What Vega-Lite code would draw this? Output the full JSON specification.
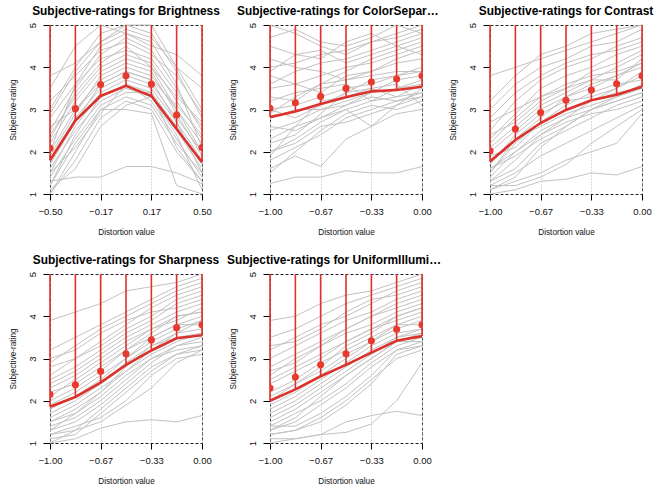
{
"$schema": "https://vega.github.io/schema/vega-lite/v6.json",
"background": "white",
"padding": {"left": 7, "top": 4, "right": 0, "bottom": 0},
"bounds": "flush",
"columns": 3,
"spacing": {"row": 80, "column": 68},
"config": {
  "font": "Liberation Sans",
  "view": {"stroke": "#222", "strokeDash": [3, 2], "strokeWidth": 1},
  "title": {"font": "Liberation Sans", "fontSize": 11.9, "fontWeight": "bold", "color": "#000", "frame": "group", "anchor": "middle", "offset": 4},
  "axis": {"labelFont": "Liberation Sans", "labelFontSize": 9.5, "labelColor": "#111", "titleFont": "Liberation Sans", "titleFontSize": 8.2, "titleFontWeight": "normal", "titleColor": "#111", "tickColor": "#000", "domain": false, "grid": false},
  "axisX": {"tickSize": 6, "labelPadding": 6, "titlePadding": 13, "grid": true, "gridDash": [1, 2], "gridColor": "#b4b4b4", "labelFlush": false, "labelOverlap": false},
  "axisY": {"tickSize": 7, "labelPadding": 6, "titlePadding": 10, "labelAngle": -90, "labelAlign": "center", "labelBaseline": "bottom"}
},
"datasets": {
  "gB": [
{"s":1,"x":-0.5,"y":1.3},{"s":1,"x":-0.333,"y":1.4},{"s":1,"x":-0.167,"y":1.4},{"s":1,"x":0,"y":1.65},{"s":1,"x":0.167,"y":1.65},{"s":1,"x":0.333,"y":1.5},{"s":1,"x":0.5,"y":1.25},
{"s":2,"x":-0.5,"y":1.0},{"s":2,"x":-0.333,"y":2.0},{"s":2,"x":-0.167,"y":3.0},{"s":2,"x":0,"y":3.0},{"s":2,"x":0.167,"y":2.9},{"s":2,"x":0.333,"y":1.2},{"s":2,"x":0.5,"y":1.0},
{"s":3,"x":-0.5,"y":2.0},{"s":3,"x":-0.333,"y":3.0},{"s":3,"x":-0.167,"y":3.7},{"s":3,"x":0,"y":4.0},{"s":3,"x":0.167,"y":3.8},{"s":3,"x":0.333,"y":3.0},{"s":3,"x":0.5,"y":2.0},
{"s":4,"x":-0.5,"y":2.5},{"s":4,"x":-0.333,"y":3.5},{"s":4,"x":-0.167,"y":4.3},{"s":4,"x":0,"y":4.7},{"s":4,"x":0.167,"y":4.4},{"s":4,"x":0.333,"y":3.5},{"s":4,"x":0.5,"y":2.5},
{"s":5,"x":-0.5,"y":1.5},{"s":5,"x":-0.333,"y":2.6},{"s":5,"x":-0.167,"y":3.4},{"s":5,"x":0,"y":3.7},{"s":5,"x":0.167,"y":3.5},{"s":5,"x":0.333,"y":2.7},{"s":5,"x":0.5,"y":1.8},
{"s":6,"x":-0.5,"y":3.0},{"s":6,"x":-0.333,"y":4.0},{"s":6,"x":-0.167,"y":4.8},{"s":6,"x":0,"y":5.0},{"s":6,"x":0.167,"y":5.0},{"s":6,"x":0.333,"y":4.0},{"s":6,"x":0.5,"y":3.0},
{"s":7,"x":-0.5,"y":1.2},{"s":7,"x":-0.333,"y":2.2},{"s":7,"x":-0.167,"y":3.0},{"s":7,"x":0,"y":3.3},{"s":7,"x":0.167,"y":3.1},{"s":7,"x":0.333,"y":2.2},{"s":7,"x":0.5,"y":1.5},
{"s":8,"x":-0.5,"y":2.2},{"s":8,"x":-0.333,"y":3.2},{"s":8,"x":-0.167,"y":3.9},{"s":8,"x":0,"y":4.2},{"s":8,"x":0.167,"y":4.0},{"s":8,"x":0.333,"y":3.0},{"s":8,"x":0.5,"y":2.2},
{"s":9,"x":-0.5,"y":1.8},{"s":9,"x":-0.333,"y":2.8},{"s":9,"x":-0.167,"y":3.5},{"s":9,"x":0,"y":3.8},{"s":9,"x":0.167,"y":3.6},{"s":9,"x":0.333,"y":2.8},{"s":9,"x":0.5,"y":2.0},
{"s":10,"x":-0.5,"y":3.5},{"s":10,"x":-0.333,"y":4.5},{"s":10,"x":-0.167,"y":5.0},{"s":10,"x":0,"y":4.8},{"s":10,"x":0.167,"y":4.5},{"s":10,"x":0.333,"y":4.3},{"s":10,"x":0.5,"y":3.8},
{"s":11,"x":-0.5,"y":1.0},{"s":11,"x":-0.333,"y":1.8},{"s":11,"x":-0.167,"y":2.8},{"s":11,"x":0,"y":3.2},{"s":11,"x":0.167,"y":3.0},{"s":11,"x":0.333,"y":2.0},{"s":11,"x":0.5,"y":1.3},
{"s":12,"x":-0.5,"y":2.8},{"s":12,"x":-0.333,"y":3.6},{"s":12,"x":-0.167,"y":4.2},{"s":12,"x":0,"y":4.4},{"s":12,"x":0.167,"y":4.2},{"s":12,"x":0.333,"y":3.4},{"s":12,"x":0.5,"y":2.6},
{"s":13,"x":-0.5,"y":1.6},{"s":13,"x":-0.333,"y":2.5},{"s":13,"x":-0.167,"y":3.2},{"s":13,"x":0,"y":3.5},{"s":13,"x":0.167,"y":3.3},{"s":13,"x":0.333,"y":2.5},{"s":13,"x":0.5,"y":1.6},
{"s":14,"x":-0.5,"y":2.4},{"s":14,"x":-0.333,"y":3.3},{"s":14,"x":-0.167,"y":4.0},{"s":14,"x":0,"y":4.3},{"s":14,"x":0.167,"y":4.1},{"s":14,"x":0.333,"y":3.2},{"s":14,"x":0.5,"y":2.3},
{"s":15,"x":-0.5,"y":1.2},{"s":15,"x":-0.333,"y":2.4},{"s":15,"x":-0.167,"y":3.3},{"s":15,"x":0,"y":3.6},{"s":15,"x":0.167,"y":3.2},{"s":15,"x":0.333,"y":2.3},{"s":15,"x":0.5,"y":1.4},
{"s":16,"x":-0.5,"y":2.0},{"s":16,"x":-0.333,"y":3.6},{"s":16,"x":-0.167,"y":4.5},{"s":16,"x":0,"y":4.8},{"s":16,"x":0.167,"y":4.6},{"s":16,"x":0.333,"y":3.6},{"s":16,"x":0.5,"y":2.1},
{"s":17,"x":-0.5,"y":1.4},{"s":17,"x":-0.333,"y":2.3},{"s":17,"x":-0.167,"y":3.1},{"s":17,"x":0,"y":3.4},{"s":17,"x":0.167,"y":3.4},{"s":17,"x":0.333,"y":2.6},{"s":17,"x":0.5,"y":1.7},
{"s":18,"x":-0.5,"y":3.2},{"s":18,"x":-0.333,"y":3.8},{"s":18,"x":-0.167,"y":4.4},{"s":18,"x":0,"y":4.6},{"s":18,"x":0.167,"y":4.3},{"s":18,"x":0.333,"y":3.8},{"s":18,"x":0.5,"y":2.9},
{"s":19,"x":-0.5,"y":1.1},{"s":19,"x":-0.333,"y":1.6},{"s":19,"x":-0.167,"y":2.6},{"s":19,"x":0,"y":3.1},{"s":19,"x":0.167,"y":3.3},{"s":19,"x":0.333,"y":2.4},{"s":19,"x":0.5,"y":1.1},
{"s":20,"x":-0.5,"y":2.6},{"s":20,"x":-0.333,"y":3.0},{"s":20,"x":-0.167,"y":3.6},{"s":20,"x":0,"y":3.9},{"s":20,"x":0.167,"y":3.7},{"s":20,"x":0.333,"y":3.1},{"s":20,"x":0.5,"y":2.4},
{"s":21,"x":-0.5,"y":1.9},{"s":21,"x":-0.333,"y":2.9},{"s":21,"x":-0.167,"y":3.8},{"s":21,"x":0,"y":4.1},{"s":21,"x":0.167,"y":3.9},{"s":21,"x":0.333,"y":2.9},{"s":21,"x":0.5,"y":1.9},
{"s":22,"x":-0.5,"y":3.8},{"s":22,"x":-0.333,"y":4.1},{"s":22,"x":-0.167,"y":4.6},{"s":22,"x":0,"y":4.9},{"s":22,"x":0.167,"y":4.7},{"s":22,"x":0.333,"y":4.0},{"s":22,"x":0.5,"y":3.5},
{"s":23,"x":-0.5,"y":1.5},{"s":23,"x":-0.333,"y":2.1},{"s":23,"x":-0.167,"y":2.9},{"s":23,"x":0,"y":3.6},{"s":23,"x":0.167,"y":3.4},{"s":23,"x":0.333,"y":2.1},{"s":23,"x":0.5,"y":1.3},
{"s":24,"x":-0.5,"y":2.3},{"s":24,"x":-0.333,"y":3.4},{"s":24,"x":-0.167,"y":4.1},{"s":24,"x":0,"y":4.5},{"s":24,"x":0.167,"y":4.0},{"s":24,"x":0.333,"y":3.3},{"s":24,"x":0.5,"y":2.7},
{"s":25,"x":-0.5,"y":1.7},{"s":25,"x":-0.333,"y":2.7},{"s":25,"x":-0.167,"y":3.6},{"s":25,"x":0,"y":3.9},{"s":25,"x":0.167,"y":3.7},{"s":25,"x":0.333,"y":2.7},{"s":25,"x":0.5,"y":1.5},
{"s":26,"x":-0.5,"y":2.9},{"s":26,"x":-0.333,"y":3.9},{"s":26,"x":-0.167,"y":4.6},{"s":26,"x":0,"y":5.0},{"s":26,"x":0.167,"y":4.8},{"s":26,"x":0.333,"y":3.9},{"s":26,"x":0.5,"y":2.8}
  ],
  "gC": [
{"s":1,"x":-1,"y":1.25},{"s":1,"x":-0.833,"y":1.4},{"s":1,"x":-0.667,"y":1.4},{"s":1,"x":-0.5,"y":1.55},{"s":1,"x":-0.333,"y":1.5},{"s":1,"x":-0.167,"y":1.5},{"s":1,"x":0,"y":1.65},
{"s":2,"x":-1,"y":1.6},{"s":2,"x":-0.833,"y":1.9},{"s":2,"x":-0.667,"y":1.65},{"s":2,"x":-0.5,"y":2.3},{"s":2,"x":-0.333,"y":2.6},{"s":2,"x":-0.167,"y":2.9},{"s":2,"x":0,"y":3.0},
{"s":3,"x":-1,"y":3.0},{"s":3,"x":-0.833,"y":3.1},{"s":3,"x":-0.667,"y":3.3},{"s":3,"x":-0.5,"y":3.5},{"s":3,"x":-0.333,"y":3.6},{"s":3,"x":-0.167,"y":3.8},{"s":3,"x":0,"y":3.9},
{"s":4,"x":-1,"y":4.0},{"s":4,"x":-0.833,"y":4.1},{"s":4,"x":-0.667,"y":4.3},{"s":4,"x":-0.5,"y":4.4},{"s":4,"x":-0.333,"y":4.6},{"s":4,"x":-0.167,"y":4.8},{"s":4,"x":0,"y":5.0},
{"s":5,"x":-1,"y":2.5},{"s":5,"x":-0.833,"y":2.7},{"s":5,"x":-0.667,"y":3.0},{"s":5,"x":-0.5,"y":3.2},{"s":5,"x":-0.333,"y":3.4},{"s":5,"x":-0.167,"y":3.5},{"s":5,"x":0,"y":3.6},
{"s":6,"x":-1,"y":5.0},{"s":6,"x":-0.833,"y":4.8},{"s":6,"x":-0.667,"y":4.5},{"s":6,"x":-0.5,"y":4.3},{"s":6,"x":-0.333,"y":4.6},{"s":6,"x":-0.167,"y":4.7},{"s":6,"x":0,"y":4.9},
{"s":7,"x":-1,"y":2.0},{"s":7,"x":-0.833,"y":2.3},{"s":7,"x":-0.667,"y":2.7},{"s":7,"x":-0.5,"y":3.0},{"s":7,"x":-0.333,"y":3.2},{"s":7,"x":-0.167,"y":3.3},{"s":7,"x":0,"y":3.4},
{"s":8,"x":-1,"y":3.5},{"s":8,"x":-0.833,"y":3.6},{"s":8,"x":-0.667,"y":3.8},{"s":8,"x":-0.5,"y":4.0},{"s":8,"x":-0.333,"y":4.1},{"s":8,"x":-0.167,"y":4.3},{"s":8,"x":0,"y":4.5},
{"s":9,"x":-1,"y":1.8},{"s":9,"x":-0.833,"y":2.1},{"s":9,"x":-0.667,"y":2.4},{"s":9,"x":-0.5,"y":2.8},{"s":9,"x":-0.333,"y":3.0},{"s":9,"x":-0.167,"y":3.2},{"s":9,"x":0,"y":3.3},
{"s":10,"x":-1,"y":3.8},{"s":10,"x":-0.833,"y":3.6},{"s":10,"x":-0.667,"y":3.4},{"s":10,"x":-0.5,"y":3.8},{"s":10,"x":-0.333,"y":3.9},{"s":10,"x":-0.167,"y":4.1},{"s":10,"x":0,"y":4.2},
{"s":11,"x":-1,"y":2.8},{"s":11,"x":-0.833,"y":3.0},{"s":11,"x":-0.667,"y":3.0},{"s":11,"x":-0.5,"y":3.1},{"s":11,"x":-0.333,"y":3.3},{"s":11,"x":-0.167,"y":3.2},{"s":11,"x":0,"y":3.4},
{"s":12,"x":-1,"y":4.5},{"s":12,"x":-0.833,"y":4.3},{"s":12,"x":-0.667,"y":4.2},{"s":12,"x":-0.5,"y":4.6},{"s":12,"x":-0.333,"y":4.8},{"s":12,"x":-0.167,"y":4.5},{"s":12,"x":0,"y":4.7},
{"s":13,"x":-1,"y":2.2},{"s":13,"x":-0.833,"y":2.4},{"s":13,"x":-0.667,"y":2.9},{"s":13,"x":-0.5,"y":3.4},{"s":13,"x":-0.333,"y":3.7},{"s":13,"x":-0.167,"y":3.8},{"s":13,"x":0,"y":4.0},
{"s":14,"x":-1,"y":3.2},{"s":14,"x":-0.833,"y":3.4},{"s":14,"x":-0.667,"y":3.5},{"s":14,"x":-0.5,"y":3.6},{"s":14,"x":-0.333,"y":3.2},{"s":14,"x":-0.167,"y":3.5},{"s":14,"x":0,"y":3.7},
{"s":15,"x":-1,"y":1.5},{"s":15,"x":-0.833,"y":2.0},{"s":15,"x":-0.667,"y":2.5},{"s":15,"x":-0.5,"y":2.9},{"s":15,"x":-0.333,"y":3.1},{"s":15,"x":-0.167,"y":3.0},{"s":15,"x":0,"y":3.2},
{"s":16,"x":-1,"y":2.9},{"s":16,"x":-0.833,"y":3.3},{"s":16,"x":-0.667,"y":3.6},{"s":16,"x":-0.5,"y":3.9},{"s":16,"x":-0.333,"y":4.2},{"s":16,"x":-0.167,"y":4.4},{"s":16,"x":0,"y":4.6},
{"s":17,"x":-1,"y":4.2},{"s":17,"x":-0.833,"y":4.0},{"s":17,"x":-0.667,"y":3.9},{"s":17,"x":-0.5,"y":3.7},{"s":17,"x":-0.333,"y":3.9},{"s":17,"x":-0.167,"y":4.2},{"s":17,"x":0,"y":4.4},
{"s":18,"x":-1,"y":2.6},{"s":18,"x":-0.833,"y":2.5},{"s":18,"x":-0.667,"y":2.8},{"s":18,"x":-0.5,"y":3.0},{"s":18,"x":-0.333,"y":2.6},{"s":18,"x":-0.167,"y":3.1},{"s":18,"x":0,"y":3.3},
{"s":19,"x":-1,"y":3.6},{"s":19,"x":-0.833,"y":3.9},{"s":19,"x":-0.667,"y":4.1},{"s":19,"x":-0.5,"y":4.2},{"s":19,"x":-0.333,"y":4.4},{"s":19,"x":-0.167,"y":4.6},{"s":19,"x":0,"y":4.8},
{"s":20,"x":-1,"y":2.3},{"s":20,"x":-0.833,"y":2.6},{"s":20,"x":-0.667,"y":3.2},{"s":20,"x":-0.5,"y":3.3},{"s":20,"x":-0.333,"y":3.5},{"s":20,"x":-0.167,"y":3.6},{"s":20,"x":0,"y":3.1},
{"s":21,"x":-1,"y":3.3},{"s":21,"x":-0.833,"y":3.2},{"s":21,"x":-0.667,"y":3.6},{"s":21,"x":-0.5,"y":3.7},{"s":21,"x":-0.333,"y":3.8},{"s":21,"x":-0.167,"y":3.9},{"s":21,"x":0,"y":3.9},
{"s":22,"x":-1,"y":2.0},{"s":22,"x":-0.833,"y":2.2},{"s":22,"x":-0.667,"y":2.6},{"s":22,"x":-0.5,"y":2.7},{"s":22,"x":-0.333,"y":2.9},{"s":22,"x":-0.167,"y":3.1},{"s":22,"x":0,"y":3.5},
{"s":23,"x":-1,"y":4.7},{"s":23,"x":-0.833,"y":4.9},{"s":23,"x":-0.667,"y":4.6},{"s":23,"x":-0.5,"y":4.5},{"s":23,"x":-0.333,"y":4.7},{"s":23,"x":-0.167,"y":5.0},{"s":23,"x":0,"y":4.8},
{"s":24,"x":-1,"y":3.0},{"s":24,"x":-0.833,"y":2.8},{"s":24,"x":-0.667,"y":3.1},{"s":24,"x":-0.5,"y":3.4},{"s":24,"x":-0.333,"y":3.5},{"s":24,"x":-0.167,"y":3.3},{"s":24,"x":0,"y":3.6},
{"s":25,"x":-1,"y":1.9},{"s":25,"x":-0.833,"y":2.6},{"s":25,"x":-0.667,"y":2.8},{"s":25,"x":-0.5,"y":3.1},{"s":25,"x":-0.333,"y":3.4},{"s":25,"x":-0.167,"y":3.7},{"s":25,"x":0,"y":3.8},
{"s":26,"x":-1,"y":3.9},{"s":26,"x":-0.833,"y":4.3},{"s":26,"x":-0.667,"y":4.4},{"s":26,"x":-0.5,"y":4.1},{"s":26,"x":-0.333,"y":4.3},{"s":26,"x":-0.167,"y":4.5},{"s":26,"x":0,"y":4.3}
  ],
  "gT": [
{"s":1,"x":-1,"y":1.0},{"s":1,"x":-0.833,"y":1.1},{"s":1,"x":-0.667,"y":1.3},{"s":1,"x":-0.5,"y":1.35},{"s":1,"x":-0.333,"y":1.5},{"s":1,"x":-0.167,"y":1.45},{"s":1,"x":0,"y":1.65},
{"s":2,"x":-1,"y":1.1},{"s":2,"x":-0.833,"y":1.3},{"s":2,"x":-0.667,"y":1.5},{"s":2,"x":-0.5,"y":1.8},{"s":2,"x":-0.333,"y":2.0},{"s":2,"x":-0.167,"y":2.2},{"s":2,"x":0,"y":2.9},
{"s":3,"x":-1,"y":3.8},{"s":3,"x":-0.833,"y":4.0},{"s":3,"x":-0.667,"y":4.2},{"s":3,"x":-0.5,"y":4.4},{"s":3,"x":-0.333,"y":4.6},{"s":3,"x":-0.167,"y":4.8},{"s":3,"x":0,"y":5.0},
{"s":4,"x":-1,"y":2.0},{"s":4,"x":-0.833,"y":2.5},{"s":4,"x":-0.667,"y":3.0},{"s":4,"x":-0.5,"y":3.3},{"s":4,"x":-0.333,"y":3.6},{"s":4,"x":-0.167,"y":3.8},{"s":4,"x":0,"y":4.0},
{"s":5,"x":-1,"y":1.5},{"s":5,"x":-0.833,"y":2.2},{"s":5,"x":-0.667,"y":2.7},{"s":5,"x":-0.5,"y":3.0},{"s":5,"x":-0.333,"y":3.2},{"s":5,"x":-0.167,"y":3.4},{"s":5,"x":0,"y":3.5},
{"s":6,"x":-1,"y":2.5},{"s":6,"x":-0.833,"y":3.2},{"s":6,"x":-0.667,"y":3.7},{"s":6,"x":-0.5,"y":4.0},{"s":6,"x":-0.333,"y":4.2},{"s":6,"x":-0.167,"y":4.5},{"s":6,"x":0,"y":4.7},
{"s":7,"x":-1,"y":1.3},{"s":7,"x":-0.833,"y":1.8},{"s":7,"x":-0.667,"y":2.4},{"s":7,"x":-0.5,"y":2.8},{"s":7,"x":-0.333,"y":3.0},{"s":7,"x":-0.167,"y":3.2},{"s":7,"x":0,"y":3.4},
{"s":8,"x":-1,"y":2.2},{"s":8,"x":-0.833,"y":2.8},{"s":8,"x":-0.667,"y":3.3},{"s":8,"x":-0.5,"y":3.6},{"s":8,"x":-0.333,"y":3.8},{"s":8,"x":-0.167,"y":3.9},{"s":8,"x":0,"y":4.1},
{"s":9,"x":-1,"y":1.2},{"s":9,"x":-0.833,"y":1.5},{"s":9,"x":-0.667,"y":1.9},{"s":9,"x":-0.5,"y":2.2},{"s":9,"x":-0.333,"y":2.5},{"s":9,"x":-0.167,"y":2.8},{"s":9,"x":0,"y":3.1},
{"s":10,"x":-1,"y":3.0},{"s":10,"x":-0.833,"y":3.6},{"s":10,"x":-0.667,"y":4.0},{"s":10,"x":-0.5,"y":4.2},{"s":10,"x":-0.333,"y":4.5},{"s":10,"x":-0.167,"y":4.6},{"s":10,"x":0,"y":4.9},
{"s":11,"x":-1,"y":1.8},{"s":11,"x":-0.833,"y":2.3},{"s":11,"x":-0.667,"y":2.6},{"s":11,"x":-0.5,"y":2.9},{"s":11,"x":-0.333,"y":3.1},{"s":11,"x":-0.167,"y":3.3},{"s":11,"x":0,"y":3.6},
{"s":12,"x":-1,"y":1.6},{"s":12,"x":-0.833,"y":2.0},{"s":12,"x":-0.667,"y":2.5},{"s":12,"x":-0.5,"y":2.8},{"s":12,"x":-0.333,"y":3.2},{"s":12,"x":-0.167,"y":3.5},{"s":12,"x":0,"y":3.8},
{"s":13,"x":-1,"y":2.7},{"s":13,"x":-0.833,"y":3.0},{"s":13,"x":-0.667,"y":3.3},{"s":13,"x":-0.5,"y":3.5},{"s":13,"x":-0.333,"y":3.7},{"s":13,"x":-0.167,"y":4.0},{"s":13,"x":0,"y":4.3},
{"s":14,"x":-1,"y":1.4},{"s":14,"x":-0.833,"y":2.0},{"s":14,"x":-0.667,"y":2.4},{"s":14,"x":-0.5,"y":2.7},{"s":14,"x":-0.333,"y":2.9},{"s":14,"x":-0.167,"y":3.0},{"s":14,"x":0,"y":3.2},
{"s":15,"x":-1,"y":1.1},{"s":15,"x":-0.833,"y":1.4},{"s":15,"x":-0.667,"y":2.1},{"s":15,"x":-0.5,"y":2.6},{"s":15,"x":-0.333,"y":3.0},{"s":15,"x":-0.167,"y":3.3},{"s":15,"x":0,"y":3.5},
{"s":16,"x":-1,"y":2.3},{"s":16,"x":-0.833,"y":2.9},{"s":16,"x":-0.667,"y":3.5},{"s":16,"x":-0.5,"y":3.8},{"s":16,"x":-0.333,"y":4.0},{"s":16,"x":-0.167,"y":4.3},{"s":16,"x":0,"y":4.5},
{"s":17,"x":-1,"y":1.9},{"s":17,"x":-0.833,"y":2.1},{"s":17,"x":-0.667,"y":2.7},{"s":17,"x":-0.5,"y":3.1},{"s":17,"x":-0.333,"y":3.4},{"s":17,"x":-0.167,"y":3.6},{"s":17,"x":0,"y":3.7},
{"s":18,"x":-1,"y":1.3},{"s":18,"x":-0.833,"y":1.6},{"s":18,"x":-0.667,"y":2.2},{"s":18,"x":-0.5,"y":2.5},{"s":18,"x":-0.333,"y":2.8},{"s":18,"x":-0.167,"y":3.1},{"s":18,"x":0,"y":3.3},
{"s":19,"x":-1,"y":2.8},{"s":19,"x":-0.833,"y":3.4},{"s":19,"x":-0.667,"y":3.8},{"s":19,"x":-0.5,"y":4.1},{"s":19,"x":-0.333,"y":4.3},{"s":19,"x":-0.167,"y":4.4},{"s":19,"x":0,"y":4.6},
{"s":20,"x":-1,"y":1.7},{"s":20,"x":-0.833,"y":2.4},{"s":20,"x":-0.667,"y":2.9},{"s":20,"x":-0.5,"y":3.2},{"s":20,"x":-0.333,"y":3.3},{"s":20,"x":-0.167,"y":3.5},{"s":20,"x":0,"y":3.9},
{"s":21,"x":-1,"y":1.2},{"s":21,"x":-0.833,"y":1.2},{"s":21,"x":-0.667,"y":1.4},{"s":21,"x":-0.5,"y":1.7},{"s":21,"x":-0.333,"y":2.2},{"s":21,"x":-0.167,"y":2.6},{"s":21,"x":0,"y":3.0},
{"s":22,"x":-1,"y":2.1},{"s":22,"x":-0.833,"y":2.6},{"s":22,"x":-0.667,"y":3.1},{"s":22,"x":-0.5,"y":3.4},{"s":22,"x":-0.333,"y":3.7},{"s":22,"x":-0.167,"y":3.7},{"s":22,"x":0,"y":4.2},
{"s":23,"x":-1,"y":1.5},{"s":23,"x":-0.833,"y":2.3},{"s":23,"x":-0.667,"y":2.8},{"s":23,"x":-0.5,"y":3.3},{"s":23,"x":-0.333,"y":3.5},{"s":23,"x":-0.167,"y":3.8},{"s":23,"x":0,"y":4.1},
{"s":24,"x":-1,"y":3.2},{"s":24,"x":-0.833,"y":3.8},{"s":24,"x":-0.667,"y":4.3},{"s":24,"x":-0.5,"y":4.5},{"s":24,"x":-0.333,"y":4.8},{"s":24,"x":-0.167,"y":4.9},{"s":24,"x":0,"y":5.0},
{"s":25,"x":-1,"y":1.6},{"s":25,"x":-0.833,"y":1.9},{"s":25,"x":-0.667,"y":2.3},{"s":25,"x":-0.5,"y":2.6},{"s":25,"x":-0.333,"y":3.0},{"s":25,"x":-0.167,"y":3.2},{"s":25,"x":0,"y":3.4},
{"s":26,"x":-1,"y":2.4},{"s":26,"x":-0.833,"y":2.7},{"s":26,"x":-0.667,"y":3.2},{"s":26,"x":-0.5,"y":3.5},{"s":26,"x":-0.333,"y":3.9},{"s":26,"x":-0.167,"y":4.1},{"s":26,"x":0,"y":4.4}
  ],
  "gS": [
{"s":1,"x":-1,"y":1.0},{"s":1,"x":-0.833,"y":1.1},{"s":1,"x":-0.667,"y":1.35},{"s":1,"x":-0.5,"y":1.5},{"s":1,"x":-0.333,"y":1.55},{"s":1,"x":-0.167,"y":1.5},{"s":1,"x":0,"y":1.65},
{"s":2,"x":-1,"y":3.9},{"s":2,"x":-0.833,"y":4.1},{"s":2,"x":-0.667,"y":4.3},{"s":2,"x":-0.5,"y":4.6},{"s":2,"x":-0.333,"y":4.7},{"s":2,"x":-0.167,"y":4.8},{"s":2,"x":0,"y":5.0},
{"s":3,"x":-1,"y":1.2},{"s":3,"x":-0.833,"y":1.3},{"s":3,"x":-0.667,"y":1.5},{"s":3,"x":-0.5,"y":1.9},{"s":3,"x":-0.333,"y":2.3},{"s":3,"x":-0.167,"y":2.9},{"s":3,"x":0,"y":3.2},
{"s":4,"x":-1,"y":2.0},{"s":4,"x":-0.833,"y":2.3},{"s":4,"x":-0.667,"y":2.7},{"s":4,"x":-0.5,"y":3.2},{"s":4,"x":-0.333,"y":3.6},{"s":4,"x":-0.167,"y":4.0},{"s":4,"x":0,"y":4.1},
{"s":5,"x":-1,"y":1.5},{"s":5,"x":-0.833,"y":1.8},{"s":5,"x":-0.667,"y":2.2},{"s":5,"x":-0.5,"y":2.7},{"s":5,"x":-0.333,"y":3.2},{"s":5,"x":-0.167,"y":3.6},{"s":5,"x":0,"y":3.7},
{"s":6,"x":-1,"y":2.8},{"s":6,"x":-0.833,"y":3.0},{"s":6,"x":-0.667,"y":3.3},{"s":6,"x":-0.5,"y":3.7},{"s":6,"x":-0.333,"y":4.0},{"s":6,"x":-0.167,"y":4.4},{"s":6,"x":0,"y":4.6},
{"s":7,"x":-1,"y":1.3},{"s":7,"x":-0.833,"y":1.5},{"s":7,"x":-0.667,"y":1.9},{"s":7,"x":-0.5,"y":2.4},{"s":7,"x":-0.333,"y":2.9},{"s":7,"x":-0.167,"y":3.3},{"s":7,"x":0,"y":3.4},
{"s":8,"x":-1,"y":2.4},{"s":8,"x":-0.833,"y":2.7},{"s":8,"x":-0.667,"y":3.1},{"s":8,"x":-0.5,"y":3.5},{"s":8,"x":-0.333,"y":3.8},{"s":8,"x":-0.167,"y":4.1},{"s":8,"x":0,"y":4.3},
{"s":9,"x":-1,"y":1.7},{"s":9,"x":-0.833,"y":2.0},{"s":9,"x":-0.667,"y":2.4},{"s":9,"x":-0.5,"y":2.9},{"s":9,"x":-0.333,"y":3.3},{"s":9,"x":-0.167,"y":3.5},{"s":9,"x":0,"y":3.6},
{"s":10,"x":-1,"y":3.2},{"s":10,"x":-0.833,"y":3.5},{"s":10,"x":-0.667,"y":3.8},{"s":10,"x":-0.5,"y":4.1},{"s":10,"x":-0.333,"y":4.4},{"s":10,"x":-0.167,"y":4.7},{"s":10,"x":0,"y":4.9},
{"s":11,"x":-1,"y":1.1},{"s":11,"x":-0.833,"y":1.2},{"s":11,"x":-0.667,"y":1.7},{"s":11,"x":-0.5,"y":2.2},{"s":11,"x":-0.333,"y":2.7},{"s":11,"x":-0.167,"y":3.1},{"s":11,"x":0,"y":3.3},
{"s":12,"x":-1,"y":2.2},{"s":12,"x":-0.833,"y":2.4},{"s":12,"x":-0.667,"y":2.8},{"s":12,"x":-0.5,"y":3.2},{"s":12,"x":-0.333,"y":3.5},{"s":12,"x":-0.167,"y":3.8},{"s":12,"x":0,"y":4.0},
{"s":13,"x":-1,"y":1.9},{"s":13,"x":-0.833,"y":2.2},{"s":13,"x":-0.667,"y":2.6},{"s":13,"x":-0.5,"y":3.0},{"s":13,"x":-0.333,"y":3.4},{"s":13,"x":-0.167,"y":3.7},{"s":13,"x":0,"y":3.9},
{"s":14,"x":-1,"y":2.6},{"s":14,"x":-0.833,"y":3.0},{"s":14,"x":-0.667,"y":3.4},{"s":14,"x":-0.5,"y":3.8},{"s":14,"x":-0.333,"y":4.2},{"s":14,"x":-0.167,"y":4.5},{"s":14,"x":0,"y":4.7},
{"s":15,"x":-1,"y":1.4},{"s":15,"x":-0.833,"y":1.6},{"s":15,"x":-0.667,"y":2.0},{"s":15,"x":-0.5,"y":2.5},{"s":15,"x":-0.333,"y":3.0},{"s":15,"x":-0.167,"y":3.3},{"s":15,"x":0,"y":3.5},
{"s":16,"x":-1,"y":3.0},{"s":16,"x":-0.833,"y":3.2},{"s":16,"x":-0.667,"y":3.6},{"s":16,"x":-0.5,"y":3.9},{"s":16,"x":-0.333,"y":4.1},{"s":16,"x":-0.167,"y":4.2},{"s":16,"x":0,"y":4.4},
{"s":17,"x":-1,"y":1.6},{"s":17,"x":-0.833,"y":1.9},{"s":17,"x":-0.667,"y":2.3},{"s":17,"x":-0.5,"y":2.7},{"s":17,"x":-0.333,"y":3.1},{"s":17,"x":-0.167,"y":3.4},{"s":17,"x":0,"y":3.6},
{"s":18,"x":-1,"y":1.2},{"s":18,"x":-0.833,"y":1.4},{"s":18,"x":-0.667,"y":1.6},{"s":18,"x":-0.5,"y":2.0},{"s":18,"x":-0.333,"y":2.6},{"s":18,"x":-0.167,"y":3.0},{"s":18,"x":0,"y":3.1},
{"s":19,"x":-1,"y":2.3},{"s":19,"x":-0.833,"y":2.6},{"s":19,"x":-0.667,"y":3.0},{"s":19,"x":-0.5,"y":3.4},{"s":19,"x":-0.333,"y":3.7},{"s":19,"x":-0.167,"y":3.9},{"s":19,"x":0,"y":4.2},
{"s":20,"x":-1,"y":1.8},{"s":20,"x":-0.833,"y":2.1},{"s":20,"x":-0.667,"y":2.5},{"s":20,"x":-0.5,"y":3.0},{"s":20,"x":-0.333,"y":3.5},{"s":20,"x":-0.167,"y":3.8},{"s":20,"x":0,"y":3.8},
{"s":21,"x":-1,"y":2.9},{"s":21,"x":-0.833,"y":3.3},{"s":21,"x":-0.667,"y":3.7},{"s":21,"x":-0.5,"y":4.0},{"s":21,"x":-0.333,"y":4.3},{"s":21,"x":-0.167,"y":4.6},{"s":21,"x":0,"y":4.8},
{"s":22,"x":-1,"y":1.3},{"s":22,"x":-0.833,"y":1.7},{"s":22,"x":-0.667,"y":2.1},{"s":22,"x":-0.5,"y":2.6},{"s":22,"x":-0.333,"y":3.0},{"s":22,"x":-0.167,"y":3.2},{"s":22,"x":0,"y":3.3},
{"s":23,"x":-1,"y":2.1},{"s":23,"x":-0.833,"y":2.5},{"s":23,"x":-0.667,"y":2.9},{"s":23,"x":-0.5,"y":3.3},{"s":23,"x":-0.333,"y":3.7},{"s":23,"x":-0.167,"y":4.0},{"s":23,"x":0,"y":4.1},
{"s":24,"x":-1,"y":1.5},{"s":24,"x":-0.833,"y":1.7},{"s":24,"x":-0.667,"y":2.2},{"s":24,"x":-0.5,"y":2.8},{"s":24,"x":-0.333,"y":3.3},{"s":24,"x":-0.167,"y":3.6},{"s":24,"x":0,"y":3.9},
{"s":25,"x":-1,"y":2.5},{"s":25,"x":-0.833,"y":2.8},{"s":25,"x":-0.667,"y":3.2},{"s":25,"x":-0.5,"y":3.6},{"s":25,"x":-0.333,"y":3.9},{"s":25,"x":-0.167,"y":4.3},{"s":25,"x":0,"y":4.5},
{"s":26,"x":-1,"y":1.0},{"s":26,"x":-0.833,"y":1.3},{"s":26,"x":-0.667,"y":1.8},{"s":26,"x":-0.5,"y":2.3},{"s":26,"x":-0.333,"y":2.8},{"s":26,"x":-0.167,"y":3.1},{"s":26,"x":0,"y":3.2}
  ],
  "gU": [
{"s":1,"x":-1,"y":1.1},{"s":1,"x":-0.833,"y":1.1},{"s":1,"x":-0.667,"y":1.2},{"s":1,"x":-0.5,"y":1.5},{"s":1,"x":-0.333,"y":1.65},{"s":1,"x":-0.167,"y":1.75},{"s":1,"x":0,"y":1.65},
{"s":2,"x":-1,"y":3.9},{"s":2,"x":-0.833,"y":4.0},{"s":2,"x":-0.667,"y":4.3},{"s":2,"x":-0.5,"y":4.5},{"s":2,"x":-0.333,"y":4.6},{"s":2,"x":-0.167,"y":4.8},{"s":2,"x":0,"y":5.0},
{"s":3,"x":-1,"y":1.0},{"s":3,"x":-0.833,"y":1.1},{"s":3,"x":-0.667,"y":1.2},{"s":3,"x":-0.5,"y":1.25},{"s":3,"x":-0.333,"y":1.45},{"s":3,"x":-0.167,"y":2.0},{"s":3,"x":0,"y":2.9},
{"s":4,"x":-1,"y":2.5},{"s":4,"x":-0.833,"y":2.8},{"s":4,"x":-0.667,"y":3.1},{"s":4,"x":-0.5,"y":3.4},{"s":4,"x":-0.333,"y":3.7},{"s":4,"x":-0.167,"y":4.0},{"s":4,"x":0,"y":4.2},
{"s":5,"x":-1,"y":1.5},{"s":5,"x":-0.833,"y":1.8},{"s":5,"x":-0.667,"y":2.2},{"s":5,"x":-0.5,"y":2.6},{"s":5,"x":-0.333,"y":3.0},{"s":5,"x":-0.167,"y":3.4},{"s":5,"x":0,"y":3.6},
{"s":6,"x":-1,"y":3.2},{"s":6,"x":-0.833,"y":3.5},{"s":6,"x":-0.667,"y":3.8},{"s":6,"x":-0.5,"y":4.0},{"s":6,"x":-0.333,"y":4.3},{"s":6,"x":-0.167,"y":4.6},{"s":6,"x":0,"y":4.8},
{"s":7,"x":-1,"y":1.3},{"s":7,"x":-0.833,"y":1.5},{"s":7,"x":-0.667,"y":1.9},{"s":7,"x":-0.5,"y":2.3},{"s":7,"x":-0.333,"y":2.8},{"s":7,"x":-0.167,"y":3.2},{"s":7,"x":0,"y":3.4},
{"s":8,"x":-1,"y":2.8},{"s":8,"x":-0.833,"y":3.1},{"s":8,"x":-0.667,"y":3.4},{"s":8,"x":-0.5,"y":3.7},{"s":8,"x":-0.333,"y":4.0},{"s":8,"x":-0.167,"y":4.2},{"s":8,"x":0,"y":4.4},
{"s":9,"x":-1,"y":1.8},{"s":9,"x":-0.833,"y":2.1},{"s":9,"x":-0.667,"y":2.5},{"s":9,"x":-0.5,"y":2.9},{"s":9,"x":-0.333,"y":3.3},{"s":9,"x":-0.167,"y":3.6},{"s":9,"x":0,"y":3.7},
{"s":10,"x":-1,"y":3.5},{"s":10,"x":-0.833,"y":3.7},{"s":10,"x":-0.667,"y":4.0},{"s":10,"x":-0.5,"y":4.3},{"s":10,"x":-0.333,"y":4.5},{"s":10,"x":-0.167,"y":4.7},{"s":10,"x":0,"y":4.9},
{"s":11,"x":-1,"y":1.2},{"s":11,"x":-0.833,"y":1.3},{"s":11,"x":-0.667,"y":1.6},{"s":11,"x":-0.5,"y":2.0},{"s":11,"x":-0.333,"y":2.5},{"s":11,"x":-0.167,"y":3.0},{"s":11,"x":0,"y":3.2},
{"s":12,"x":-1,"y":2.2},{"s":12,"x":-0.833,"y":2.5},{"s":12,"x":-0.667,"y":2.9},{"s":12,"x":-0.5,"y":3.2},{"s":12,"x":-0.333,"y":3.5},{"s":12,"x":-0.167,"y":3.8},{"s":12,"x":0,"y":4.0},
{"s":13,"x":-1,"y":2.0},{"s":13,"x":-0.833,"y":2.4},{"s":13,"x":-0.667,"y":2.7},{"s":13,"x":-0.5,"y":3.1},{"s":13,"x":-0.333,"y":3.4},{"s":13,"x":-0.167,"y":3.7},{"s":13,"x":0,"y":3.9},
{"s":14,"x":-1,"y":3.0},{"s":14,"x":-0.833,"y":3.3},{"s":14,"x":-0.667,"y":3.6},{"s":14,"x":-0.5,"y":3.9},{"s":14,"x":-0.333,"y":4.1},{"s":14,"x":-0.167,"y":4.4},{"s":14,"x":0,"y":4.6},
{"s":15,"x":-1,"y":1.4},{"s":15,"x":-0.833,"y":1.7},{"s":15,"x":-0.667,"y":2.0},{"s":15,"x":-0.5,"y":2.4},{"s":15,"x":-0.333,"y":2.9},{"s":15,"x":-0.167,"y":3.3},{"s":15,"x":0,"y":3.5},
{"s":16,"x":-1,"y":2.6},{"s":16,"x":-0.833,"y":3.0},{"s":16,"x":-0.667,"y":3.3},{"s":16,"x":-0.5,"y":3.6},{"s":16,"x":-0.333,"y":3.8},{"s":16,"x":-0.167,"y":4.1},{"s":16,"x":0,"y":4.3},
{"s":17,"x":-1,"y":1.6},{"s":17,"x":-0.833,"y":1.9},{"s":17,"x":-0.667,"y":2.3},{"s":17,"x":-0.5,"y":2.7},{"s":17,"x":-0.333,"y":3.1},{"s":17,"x":-0.167,"y":3.5},{"s":17,"x":0,"y":3.6},
{"s":18,"x":-1,"y":1.2},{"s":18,"x":-0.833,"y":1.3},{"s":18,"x":-0.667,"y":1.5},{"s":18,"x":-0.5,"y":1.9},{"s":18,"x":-0.333,"y":2.4},{"s":18,"x":-0.167,"y":3.1},{"s":18,"x":0,"y":3.3},
{"s":19,"x":-1,"y":2.4},{"s":19,"x":-0.833,"y":2.7},{"s":19,"x":-0.667,"y":3.0},{"s":19,"x":-0.5,"y":3.4},{"s":19,"x":-0.333,"y":3.7},{"s":19,"x":-0.167,"y":3.9},{"s":19,"x":0,"y":4.1},
{"s":20,"x":-1,"y":1.9},{"s":20,"x":-0.833,"y":2.2},{"s":20,"x":-0.667,"y":2.6},{"s":20,"x":-0.5,"y":3.0},{"s":20,"x":-0.333,"y":3.4},{"s":20,"x":-0.167,"y":3.8},{"s":20,"x":0,"y":3.8},
{"s":21,"x":-1,"y":3.3},{"s":21,"x":-0.833,"y":3.4},{"s":21,"x":-0.667,"y":3.7},{"s":21,"x":-0.5,"y":4.1},{"s":21,"x":-0.333,"y":4.4},{"s":21,"x":-0.167,"y":4.5},{"s":21,"x":0,"y":4.7},
{"s":22,"x":-1,"y":1.3},{"s":22,"x":-0.833,"y":1.6},{"s":22,"x":-0.667,"y":2.1},{"s":22,"x":-0.5,"y":2.6},{"s":22,"x":-0.333,"y":3.0},{"s":22,"x":-0.167,"y":3.4},{"s":22,"x":0,"y":3.4},
{"s":23,"x":-1,"y":2.1},{"s":23,"x":-0.833,"y":2.4},{"s":23,"x":-0.667,"y":2.8},{"s":23,"x":-0.5,"y":3.3},{"s":23,"x":-0.333,"y":3.6},{"s":23,"x":-0.167,"y":4.0},{"s":23,"x":0,"y":4.2},
{"s":24,"x":-1,"y":1.7},{"s":24,"x":-0.833,"y":2.0},{"s":24,"x":-0.667,"y":2.4},{"s":24,"x":-0.5,"y":2.8},{"s":24,"x":-0.333,"y":3.2},{"s":24,"x":-0.167,"y":3.5},{"s":24,"x":0,"y":3.7},
{"s":25,"x":-1,"y":2.7},{"s":25,"x":-0.833,"y":2.9},{"s":25,"x":-0.667,"y":3.3},{"s":25,"x":-0.5,"y":3.7},{"s":25,"x":-0.333,"y":4.0},{"s":25,"x":-0.167,"y":4.3},{"s":25,"x":0,"y":4.5},
{"s":26,"x":-1,"y":1.4},{"s":26,"x":-0.833,"y":1.4},{"s":26,"x":-0.667,"y":1.7},{"s":26,"x":-0.5,"y":2.1},{"s":26,"x":-0.333,"y":2.6},{"s":26,"x":-0.167,"y":3.2},{"s":26,"x":0,"y":3.3}
  ],
  "mB": [{"x":-0.5,"m":1.8,"p":2.08},{"x":-0.333,"m":2.74,"p":3.02},{"x":-0.167,"m":3.32,"p":3.59},{"x":0,"m":3.56,"p":3.8},{"x":0.167,"m":3.32,"p":3.6},{"x":0.333,"m":2.54,"p":2.87},{"x":0.5,"m":1.75,"p":2.1}],
  "mC": [{"x":-1,"m":2.82,"p":3.03},{"x":-0.833,"m":2.95,"p":3.16},{"x":-0.667,"m":3.13,"p":3.31},{"x":-0.5,"m":3.29,"p":3.5},{"x":-0.333,"m":3.43,"p":3.65},{"x":-0.167,"m":3.46,"p":3.72},{"x":0,"m":3.54,"p":3.8}],
  "mT": [{"x":-1,"m":1.77,"p":2.02},{"x":-0.833,"m":2.28,"p":2.54},{"x":-0.667,"m":2.68,"p":2.93},{"x":-0.5,"m":2.99,"p":3.22},{"x":-0.333,"m":3.22,"p":3.46},{"x":-0.167,"m":3.35,"p":3.61},{"x":0,"m":3.54,"p":3.8}],
  "mS": [{"x":-1,"m":1.86,"p":2.15},{"x":-0.833,"m":2.09,"p":2.38},{"x":-0.667,"m":2.43,"p":2.7},{"x":-0.5,"m":2.85,"p":3.11},{"x":-0.333,"m":3.19,"p":3.44},{"x":-0.167,"m":3.48,"p":3.73},{"x":0,"m":3.55,"p":3.8}],
  "mU": [{"x":-1,"m":2.0,"p":2.3},{"x":-0.833,"m":2.27,"p":2.56},{"x":-0.667,"m":2.58,"p":2.85},{"x":-0.5,"m":2.85,"p":3.11},{"x":-0.333,"m":3.14,"p":3.42},{"x":-0.167,"m":3.42,"p":3.69},{"x":0,"m":3.53,"p":3.8}]
},
"concat": [
 {
  "width": 152, "height": 169,
  "title": {"text": "Subjective-ratings for Brightness"},
  "layer": [
   {"data": {"name": "gB"}, "mark": {"type": "line", "color": "#c2c2c2", "strokeWidth": 1},
    "encoding": {
     "x": {"field": "x", "type": "quantitative", "scale": {"domain": [-0.5, 0.5], "nice": false, "zero": false},
       "axis": {"title": "Distortion value", "values": [-0.5, -0.333, -0.167, 0, 0.167, 0.333, 0.5],
         "labelExpr": "indexof([-0.5, -0.167, 0.167, 0.5], datum.value) >= 0 ? format(datum.value, '.2f') : ''"}},
     "y": {"field": "y", "type": "quantitative", "scale": {"domain": [1, 5], "nice": false, "zero": false}, "axis": {"title": "Subjective-rating", "values": [1, 2, 3, 4, 5]}},
     "detail": {"field": "s", "type": "nominal"}}},
   {"data": {"name": "mB"}, "mark": {"type": "rule", "color": "#e0302a", "strokeWidth": 1.6},
    "encoding": {"x": {"field": "x", "type": "quantitative"}, "y": {"field": "m", "type": "quantitative"}, "y2": {"datum": 5}}},
   {"data": {"name": "mB"}, "mark": {"type": "line", "color": "#dc322c", "strokeWidth": 2.6},
    "encoding": {"x": {"field": "x", "type": "quantitative"}, "y": {"field": "m", "type": "quantitative"}}},
   {"data": {"name": "mB"}, "mark": {"type": "circle", "color": "#e8392f", "size": 50, "opacity": 1, "clip": true},
    "encoding": {"x": {"field": "x", "type": "quantitative"}, "y": {"field": "p", "type": "quantitative"}}}
  ]
 },
 {
  "width": 152, "height": 169,
  "title": {"text": "Subjective-ratings for ColorSeparation", "anchor": "start", "dx": -33, "limit": 205},
  "layer": [
   {"data": {"name": "gC"}, "mark": {"type": "line", "color": "#c2c2c2", "strokeWidth": 1},
    "encoding": {
     "x": {"field": "x", "type": "quantitative", "scale": {"domain": [-1, 0], "nice": false, "zero": false},
       "axis": {"title": "Distortion value", "values": [-1, -0.833, -0.667, -0.5, -0.333, -0.167, 0],
         "labelExpr": "indexof([-1, -0.667, -0.333, 0], datum.value) >= 0 ? format(datum.value, '.2f') : ''"}},
     "y": {"field": "y", "type": "quantitative", "scale": {"domain": [1, 5], "nice": false, "zero": false}, "axis": {"title": "Subjective-rating", "values": [1, 2, 3, 4, 5]}},
     "detail": {"field": "s", "type": "nominal"}}},
   {"data": {"name": "mC"}, "mark": {"type": "rule", "color": "#e0302a", "strokeWidth": 1.6},
    "encoding": {"x": {"field": "x", "type": "quantitative"}, "y": {"field": "m", "type": "quantitative"}, "y2": {"datum": 5}}},
   {"data": {"name": "mC"}, "mark": {"type": "line", "color": "#dc322c", "strokeWidth": 2.6},
    "encoding": {"x": {"field": "x", "type": "quantitative"}, "y": {"field": "m", "type": "quantitative"}}},
   {"data": {"name": "mC"}, "mark": {"type": "circle", "color": "#e8392f", "size": 50, "opacity": 1, "clip": true},
    "encoding": {"x": {"field": "x", "type": "quantitative"}, "y": {"field": "p", "type": "quantitative"}}}
  ]
 },
 {
  "width": 152, "height": 169,
  "title": {"text": "Subjective-ratings for Contrast"},
  "layer": [
   {"data": {"name": "gT"}, "mark": {"type": "line", "color": "#c2c2c2", "strokeWidth": 1},
    "encoding": {
     "x": {"field": "x", "type": "quantitative", "scale": {"domain": [-1, 0], "nice": false, "zero": false},
       "axis": {"title": "Distortion value", "values": [-1, -0.833, -0.667, -0.5, -0.333, -0.167, 0],
         "labelExpr": "indexof([-1, -0.667, -0.333, 0], datum.value) >= 0 ? format(datum.value, '.2f') : ''"}},
     "y": {"field": "y", "type": "quantitative", "scale": {"domain": [1, 5], "nice": false, "zero": false}, "axis": {"title": "Subjective-rating", "values": [1, 2, 3, 4, 5]}},
     "detail": {"field": "s", "type": "nominal"}}},
   {"data": {"name": "mT"}, "mark": {"type": "rule", "color": "#e0302a", "strokeWidth": 1.6},
    "encoding": {"x": {"field": "x", "type": "quantitative"}, "y": {"field": "m", "type": "quantitative"}, "y2": {"datum": 5}}},
   {"data": {"name": "mT"}, "mark": {"type": "line", "color": "#dc322c", "strokeWidth": 2.6},
    "encoding": {"x": {"field": "x", "type": "quantitative"}, "y": {"field": "m", "type": "quantitative"}}},
   {"data": {"name": "mT"}, "mark": {"type": "circle", "color": "#e8392f", "size": 50, "opacity": 1, "clip": true},
    "encoding": {"x": {"field": "x", "type": "quantitative"}, "y": {"field": "p", "type": "quantitative"}}}
  ]
 },
 {
  "width": 152, "height": 169,
  "title": {"text": "Subjective-ratings for Sharpness"},
  "layer": [
   {"data": {"name": "gS"}, "mark": {"type": "line", "color": "#c2c2c2", "strokeWidth": 1},
    "encoding": {
     "x": {"field": "x", "type": "quantitative", "scale": {"domain": [-1, 0], "nice": false, "zero": false},
       "axis": {"title": "Distortion value", "values": [-1, -0.833, -0.667, -0.5, -0.333, -0.167, 0],
         "labelExpr": "indexof([-1, -0.667, -0.333, 0], datum.value) >= 0 ? format(datum.value, '.2f') : ''"}},
     "y": {"field": "y", "type": "quantitative", "scale": {"domain": [1, 5], "nice": false, "zero": false}, "axis": {"title": "Subjective-rating", "values": [1, 2, 3, 4, 5]}},
     "detail": {"field": "s", "type": "nominal"}}},
   {"data": {"name": "mS"}, "mark": {"type": "rule", "color": "#e0302a", "strokeWidth": 1.6},
    "encoding": {"x": {"field": "x", "type": "quantitative"}, "y": {"field": "m", "type": "quantitative"}, "y2": {"datum": 5}}},
   {"data": {"name": "mS"}, "mark": {"type": "line", "color": "#dc322c", "strokeWidth": 2.6},
    "encoding": {"x": {"field": "x", "type": "quantitative"}, "y": {"field": "m", "type": "quantitative"}}},
   {"data": {"name": "mS"}, "mark": {"type": "circle", "color": "#e8392f", "size": 50, "opacity": 1, "clip": true},
    "encoding": {"x": {"field": "x", "type": "quantitative"}, "y": {"field": "p", "type": "quantitative"}}}
  ]
 },
 {
  "width": 152, "height": 169,
  "title": {"text": "Subjective-ratings for UniformIllumination", "anchor": "start", "dx": -43, "limit": 215},
  "layer": [
   {"data": {"name": "gU"}, "mark": {"type": "line", "color": "#c2c2c2", "strokeWidth": 1},
    "encoding": {
     "x": {"field": "x", "type": "quantitative", "scale": {"domain": [-1, 0], "nice": false, "zero": false},
       "axis": {"title": "Distortion value", "values": [-1, -0.833, -0.667, -0.5, -0.333, -0.167, 0],
         "labelExpr": "indexof([-1, -0.667, -0.333, 0], datum.value) >= 0 ? format(datum.value, '.2f') : ''"}},
     "y": {"field": "y", "type": "quantitative", "scale": {"domain": [1, 5], "nice": false, "zero": false}, "axis": {"title": "Subjective-rating", "values": [1, 2, 3, 4, 5]}},
     "detail": {"field": "s", "type": "nominal"}}},
   {"data": {"name": "mU"}, "mark": {"type": "rule", "color": "#e0302a", "strokeWidth": 1.6},
    "encoding": {"x": {"field": "x", "type": "quantitative"}, "y": {"field": "m", "type": "quantitative"}, "y2": {"datum": 5}}},
   {"data": {"name": "mU"}, "mark": {"type": "line", "color": "#dc322c", "strokeWidth": 2.6},
    "encoding": {"x": {"field": "x", "type": "quantitative"}, "y": {"field": "m", "type": "quantitative"}}},
   {"data": {"name": "mU"}, "mark": {"type": "circle", "color": "#e8392f", "size": 50, "opacity": 1, "clip": true},
    "encoding": {"x": {"field": "x", "type": "quantitative"}, "y": {"field": "p", "type": "quantitative"}}}
  ]
 }
]
}
